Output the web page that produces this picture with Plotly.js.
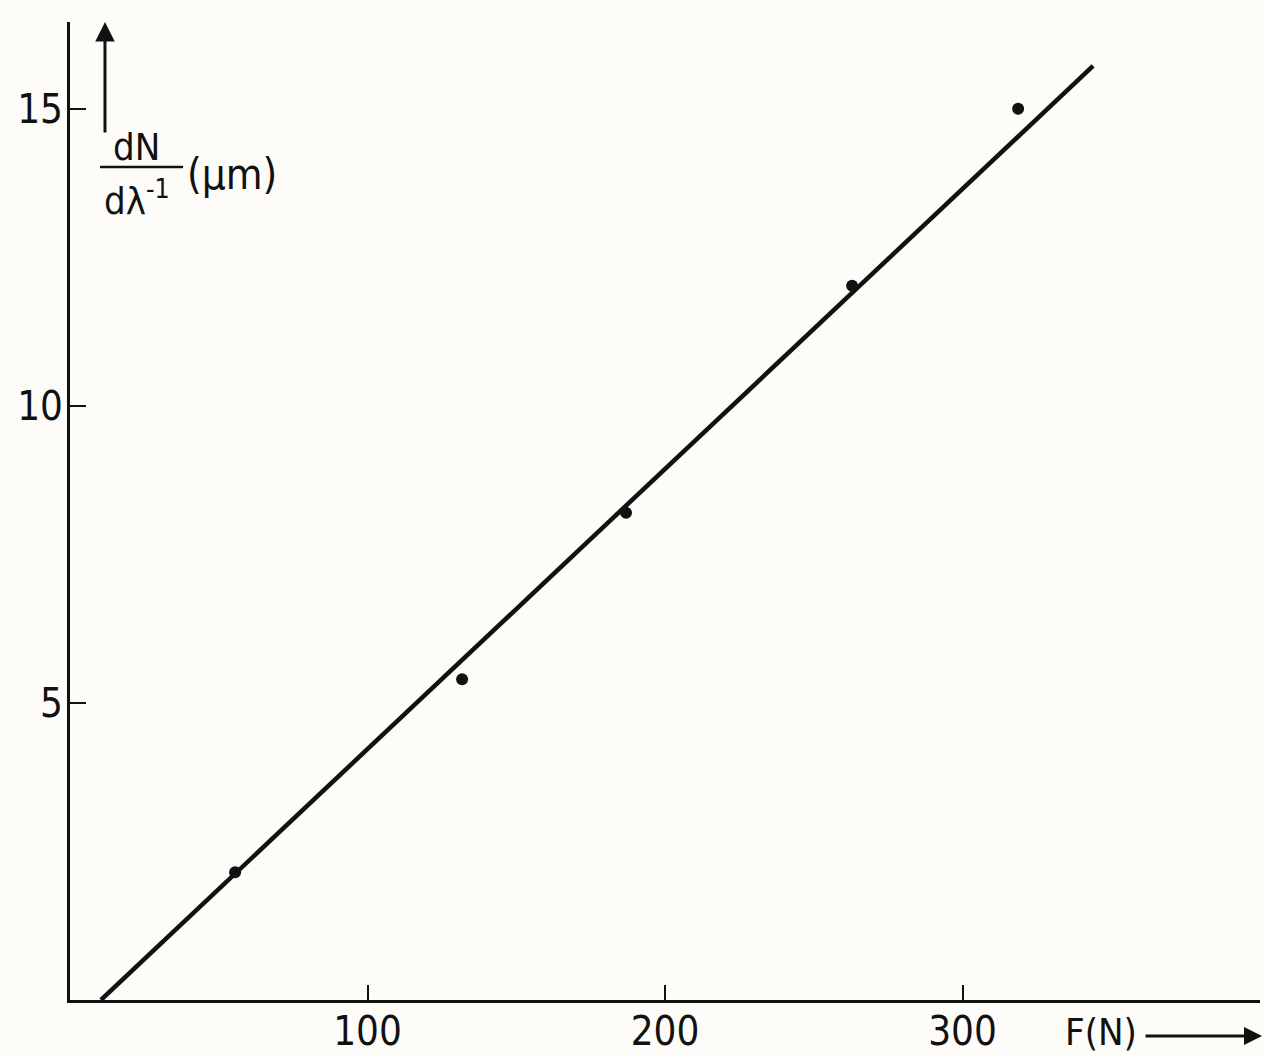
<!DOCTYPE html>
<html>
<head>
<meta charset="utf-8">
<script src="https://cdn.plot.ly/plotly-3.0.1.min.js"></script>
<style>html,body{margin:0;padding:0;background:#fdfcf9;}</style>
</head>
<body>
<div id="chart" style="width:1264px;height:1055px;"></div>
<script>
// Measured points: F (N) vs dN/dλ^-1 (μm)
const forceN = [55.5, 131.8, 186.9, 262.9, 318.7];
const dNdLambda = [2.15, 5.40, 8.20, 12.02, 15.0];
// Fitted straight line end points
const fitX = [10.4, 343.9];
const fitY = [0, 15.72];
const xTicks = [100, 200, 300];
const yTicks = [5, 10, 15];

const FONT = '"Liberation Sans Narrow", "DejaVu Sans Condensed", "Liberation Sans", sans-serif';
const ink = '#111';

const traces = [
  {x: fitX, y: fitY, mode: 'lines', line: {color: ink, width: 4.5}, hoverinfo: 'skip'},
  {x: forceN, y: dNdLambda, mode: 'markers', marker: {color: ink, size: 12}}
];

const layout = {
  width: 1264, height: 1055,
  margin: {l: 70, r: 4, t: 22, b: 55, pad: 0},
  paper_bgcolor: '#fdfcf9', plot_bgcolor: '#fdfcf9',
  showlegend: false,
  xaxis: {
    range: [0, 400], showgrid: false, zeroline: false,
    showline: true, linecolor: ink, linewidth: 3,
    ticks: 'inside', ticklen: 15, tickwidth: 2, tickcolor: ink,
    tickvals: xTicks, ticktext: xTicks.map(String),
    tickfont: {family: FONT, size: 40, color: ink},
    ticklabelstandoff: -6
  },
  yaxis: {
    range: [0, 16.46], showgrid: false, zeroline: false,
    showline: true, linecolor: ink, linewidth: 3,
    ticks: 'inside', ticklen: 16, tickwidth: 2, tickcolor: ink,
    tickvals: yTicks, ticktext: yTicks.map(String),
    tickfont: {family: FONT, size: 40, color: ink},
    ticklabelstandoff: -4
  },
  shapes: [
    {type: 'line', xref: 'paper', yref: 'paper', x0: 0.0252, x1: 0.095, y0: 0.8517, y1: 0.8517,
     line: {color: ink, width: 2.5}}
  ],
  annotations: [
    {xref: 'paper', yref: 'paper', x: 0.0294, y: 1.0, ax: 0, ay: 112, showarrow: true,
     arrowhead: 2, arrowsize: 1.3, arrowwidth: 3, arrowcolor: ink, text: ''},
    {xref: 'paper', yref: 'paper', x: 0.0563, y: 0.872, text: 'dN', showarrow: false,
     font: {family: FONT, size: 38, color: ink}, xanchor: 'center', yanchor: 'middle'},
    {xref: 'paper', yref: 'paper', x: 0.0563, y: 0.82, text: 'dλ<sup>-1</sup>', showarrow: false,
     font: {family: FONT, size: 38, color: ink}, xanchor: 'center', yanchor: 'middle'},
    {xref: 'paper', yref: 'paper', x: 0.0966, y: 0.8436, text: '(μm)', showarrow: false,
     font: {family: FONT, size: 42, color: ink}, xanchor: 'left', yanchor: 'middle'},
    {xref: 'paper', yref: 'paper', x: 0.8664, y: -0.0325, text: 'F(N)', showarrow: false,
     font: {family: FONT, size: 38, color: ink}, xanchor: 'center', yanchor: 'middle'},
    {xref: 'paper', yref: 'paper', x: 1.0017, y: -0.0368, ax: -118, ay: 0, showarrow: true,
     arrowhead: 2, arrowsize: 1.2, arrowwidth: 3, arrowcolor: ink, text: ''}
  ]
};

Plotly.newPlot('chart', traces, layout, {displayModeBar: false, staticPlot: true});
</script>
</body>
</html>
